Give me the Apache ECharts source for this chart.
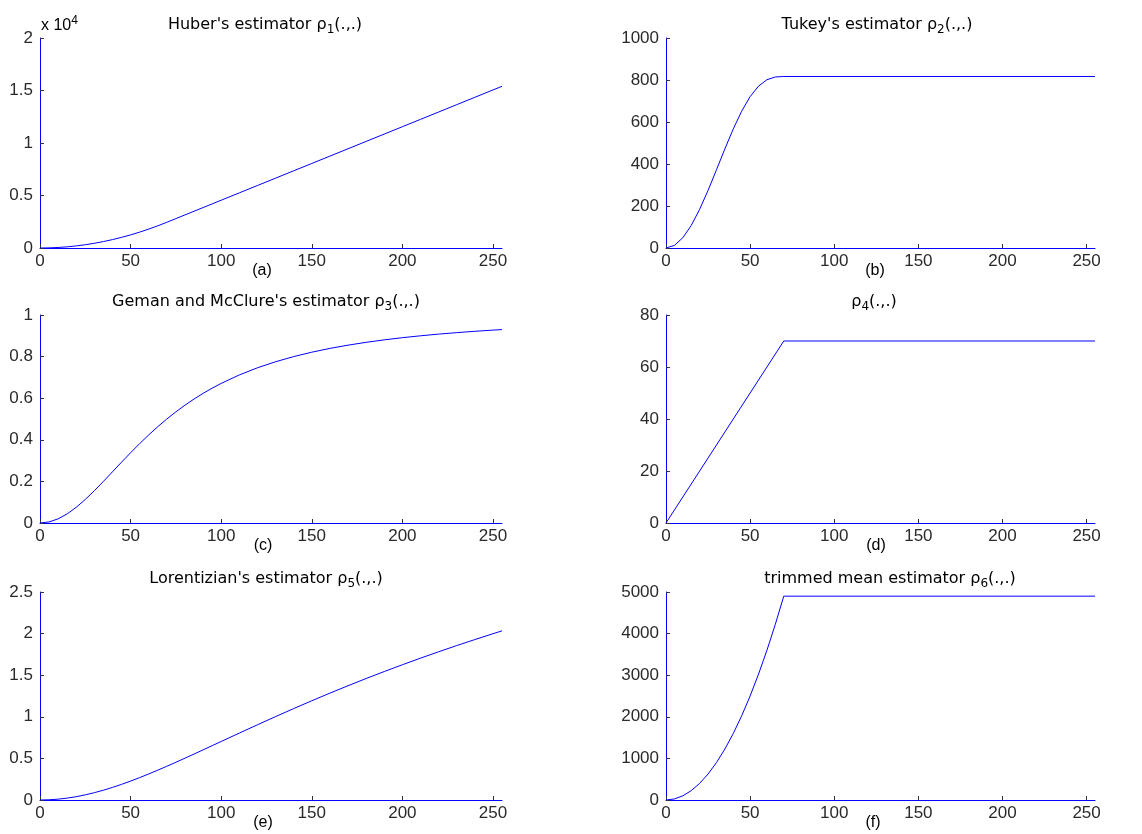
<!DOCTYPE html>
<html>
<head>
<meta charset="utf-8">
<script src="https://cdn.jsdelivr.net/npm/echarts@6/dist/echarts.min.js"></script>
<style>html,body{margin:0;padding:0;background:#fff}#c{width:1142px;height:834px}</style>
</head>
<body>
<div id="c"></div>
<script>
// ---- data ----
const xSmooth = [0,5,10,15,20,25,30,35,40,45,50,55,60,65,70,75,80,85,90,95,100,110,120,130,140,150,160,170,180,190,200,210,220,230,240,250,255];
const huber = [0,12.5,50,112.5,200,312.5,450,612.5,800,1012.5,1250,1512.5,1800,2112.5,2450,2800,3150,3500,3850,4200,4550,5250,5950,6650,7350,8050,8750,9450,10150,10850,11550,12250,12950,13650,14350,15050,15400];
const geman = [0,0.0051,0.02,0.0439,0.0755,0.1131,0.1552,0.2,0.2462,0.2924,0.3378,0.3817,0.4235,0.463,0.5,0.5344,0.5664,0.5959,0.6231,0.6481,0.6711,0.7118,0.7461,0.7752,0.8,0.8212,0.8393,0.855,0.8686,0.8805,0.8909,0.9,0.9081,0.9152,0.9216,0.9273,0.9299];
const lorentz = [0,0.0026,0.0102,0.0227,0.04,0.0618,0.0879,0.1178,0.1512,0.1878,0.2272,0.269,0.313,0.3585,0.4055,0.4536,0.5026,0.5523,0.6024,0.6528,0.7033,0.804,0.9038,1.0022,1.0986,1.1926,1.2843,1.3735,1.46,1.544,1.6255,1.7047,1.7815,1.856,1.9283,1.9984,2.0328];
const xSat = [0,5,10,15,20,25,30,35,40,45,50,55,60,65,70,255];
const tukey = [0,12.4,49,107.4,184.1,274.3,372.4,472.1,567.2,651.7,720.7,770.9,801.4,814.5,816.7,816.7];
const trimmed = [0,25,100,225,400,625,900,1225,1600,2025,2500,3025,3600,4225,4900,4900];
const xLin = [0,10,20,30,40,50,60,70,255];
const rho4 = [0,10,20,30,40,50,60,70,70];
const xTicks = [0,50,100,150,200,250];
const titles = [
  ["Huber's estimator ", "1"],
  ["Tukey's estimator ", "2"],
  ["Geman and McClure's estimator ", "3"],
  ["", "4"],
  ["Lorentizian's estimator ", "5"],
  ["trimmed mean estimator ", "6"]
];
const subLabels = ["(a)","(b)","(c)","(d)","(e)","(f)"];
const yRanges = [[0,20000,5000],[0,1000,200],[0,1,0.2],[0,80,20],[0,2.5,0.5],[0,5000,1000]];

// ---- layout ----
const cols = [{left:40,width:462},{left:666,width:429}];
const rows = [{top:38,height:210},{top:315,height:208},{top:592,height:208}];
const titleCx = [265,877,266,874,266,890];
const labelCx = [262,875,263,876,263,873];
const BLUE = '#0000ff';
const TXT = '#2a2a2a';

const seriesXY = [
  [xSmooth, huber], [xSat, tukey], [xSmooth, geman], [xLin, rho4], [xSmooth, lorentz], [xSat, trimmed]
];

const grids=[], xAxes=[], yAxes=[], series=[], graphics=[];
for (let i=0;i<6;i++){
  const c = cols[i%2], r = rows[Math.floor(i/2)];
  grids.push({left:c.left, top:r.top, width:c.width, height:r.height, containLabel:false});
  xAxes.push({
    type:'value', gridIndex:i, min:0, max:255, interval:50,
    axisLine:{show:true, onZero:false, lineStyle:{color:BLUE,width:1}},
    axisTick:{show:true, inside:true, length:4, customValues:xTicks, lineStyle:{color:'#333'}},
    axisLabel:{show:true, margin:5, customValues:xTicks, color:TXT, fontFamily:'Liberation Sans', fontSize:17},
    splitLine:{show:false}
  });
  const yr = yRanges[i];
  yAxes.push({
    type:'value', gridIndex:i, min:yr[0], max:yr[1], interval:yr[2],
    axisLine:{show:true, onZero:false, lineStyle:{color:BLUE,width:1}},
    axisTick:{show:true, inside:true, length:4, lineStyle:{color:'#333'}},
    axisLabel:{show:true, margin:7, color:TXT, fontFamily:'Liberation Sans', fontSize:17,
      formatter: i===0 ? (v => String(+(v/10000).toFixed(2))) : (v => String(+v.toFixed(2)))},
    splitLine:{show:false}
  });
  const [xs, ys] = seriesXY[i];
  series.push({
    type:'line', xAxisIndex:i, yAxisIndex:i, showSymbol:false, symbol:'none',
    data: xs.map((x,k)=>[x, ys[k]]),
    lineStyle:{color:BLUE, width:1}, silent:true, clip:true
  });
  // title
  const t = titles[i];
  graphics.push({
    type:'text', x:titleCx[i], y:r.top-13,
    style:{
      text:'{m|' + t[0] + 'ρ}{s|' + t[1] + '}{m|(.,.)}',
      align:'center', verticalAlign:'middle',
      rich:{
        m:{fontFamily:'DejaVu Sans', fontSize:16, lineHeight:22, fill:'#000'},
        s:{fontFamily:'DejaVu Sans', fontSize:12, lineHeight:8, verticalAlign:'bottom', fill:'#000'}
      }
    }
  });
  // sub label
  graphics.push({
    type:'text', x:labelCx[i], y:r.top+r.height+23,
    style:{text:subLabels[i], align:'center', verticalAlign:'middle', fontFamily:'Liberation Sans', fontSize:16, fill:'#000'}
  });
}
// x 10^4 multiplier
graphics.push({
  type:'text', x:41, y:26,
  style:{
    text:'{m|x 10}{p|4}', align:'left', verticalAlign:'middle',
    rich:{
      m:{fontFamily:'Liberation Sans', fontSize:16, lineHeight:22, fill:'#000'},
      p:{fontFamily:'Liberation Sans', fontSize:12, lineHeight:8, verticalAlign:'top', fill:'#000'}
    }
  }
});

const chart = echarts.init(document.getElementById('c'), null, {renderer:'canvas'});
chart.setOption({
  animation:false,
  backgroundColor:'#fff',
  grid:grids, xAxis:xAxes, yAxis:yAxes, series:series,
  graphic:graphics
});
</script>
</body>
</html>
